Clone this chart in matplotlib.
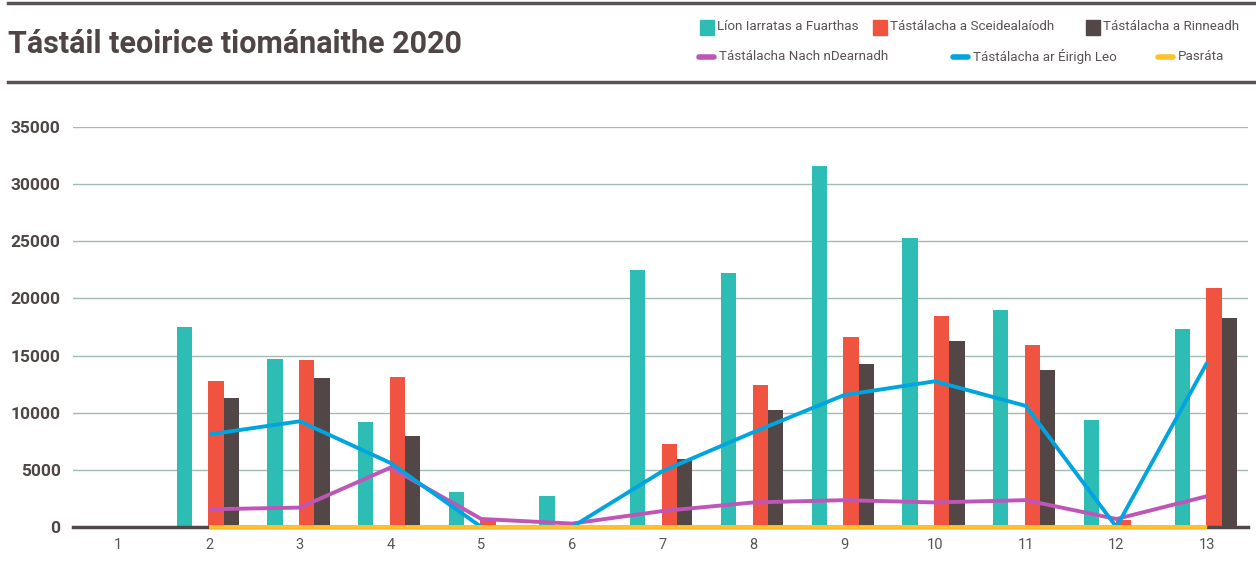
import numpy as np
import matplotlib
matplotlib.use("Agg")
import matplotlib.pyplot as plt
from matplotlib.patches import Rectangle
from matplotlib.lines import Line2D

plt.rcParams['font.family'] = ['Roboto', 'DejaVu Sans']

# ---- data ----
categories = ["1", "2", "3", "4", "5", "6", "7", "8", "9", "10", "11", "12", "13"]
lion_iarratas = [0, 17500, 14700, 9200, 3100, 2750, 22500, 22250, 31600, 25250, 18950, 9400, 17300]
sceidealaiodh = [0, 12800, 14600, 13150, 700, 0, 7300, 12400, 16650, 18450, 15950, 650, 20950]
rinneadh = [0, 11250, 13000, 7950, 0, 0, 5950, 10200, 14300, 16250, 13700, 0, 18250]
nach_ndearnadh = [np.nan, 1550, 1700, 5200, 700, 300, 1400, 2150, 2350, 2150, 2350, 700, 2700]
eirigh_leo = [np.nan, 8100, 9250, 5600, 0, 0, 4900, 8300, 11550, 12750, 10600, 0, 14400]
pasrata = [np.nan, 0.6, 0.6, 0.6, 0.5, 0.5, 0.6, 0.6, 0.6, 0.6, 0.6, 0.5, 0.6]

series_names = ["Líon Iarratas a Fuarthas", "Tástálacha a Sceidealaíodh", "Tástálacha a Rinneadh",
                "Tástálacha Nach nDearnadh", "Tástálacha ar Éirigh Leo", "Pasráta"]
title = "Tástáil teoirice tiománaithe 2020"

# ---- style ----
TEAL = "#2dbdb5"
RED = "#f05440"
DARK = "#524646"
PURPLE = "#c055b8"
BLUE = "#00a5e0"
YELLOW = "#fdc12a"
TEXT = "#4f4545"
GRID = "#a3bbb5"

W, H = 1256, 580
fig = plt.figure(figsize=(W / 100, H / 100), dpi=100)

ax = fig.add_axes([73 / W, 1 - 527 / H, (1248 - 73) / W, (527 - 127) / H])
x = np.arange(1, len(categories) + 1)
bw = 0.168
ax.bar(x - 0.275, lion_iarratas, bw, color=TEAL, zorder=2)
ax.bar(x + 0.075, sceidealaiodh, bw, color=RED, zorder=2)
ax.bar(x + 0.243, rinneadh, bw, color=DARK, zorder=2)
ax.axhline(0, color=DARK, lw=2.5, zorder=2.5, clip_on=False)
ax.plot(x, nach_ndearnadh, color=PURPLE, lw=2.8, zorder=3, solid_capstyle='butt', clip_on=False)
ax.plot(x, eirigh_leo, color=BLUE, lw=2.8, zorder=3, solid_capstyle='butt', clip_on=False)
ax.plot(x, pasrata, color=YELLOW, lw=2.8, zorder=3.1, solid_capstyle='butt', clip_on=False)

ax.set_xlim(0.5, 13.45)
ax.set_ylim(0, 35000)
ax.set_yticks(np.arange(0, 35001, 5000))
ax.set_xticks(x)
ax.set_xticklabels(categories)
ax.grid(axis='y', color=GRID, lw=1.0, zorder=0)
ax.set_axisbelow(True)
for s in ax.spines.values():
    s.set_visible(False)
ax.tick_params(axis='both', length=0)
ax.tick_params(axis='y', labelsize=12.5, labelcolor=TEXT, pad=9)
ax.tick_params(axis='x', labelsize=10.5, labelcolor="#5a5252", pad=8)
for lab in ax.get_yticklabels():
    lab.set_fontweight('bold')

# ---- header rules and title ----
fig.add_artist(Line2D([8 / W, 1.0], [1 - 3 / H] * 2, color="#5a5252", lw=2.5))
fig.add_artist(Line2D([8 / W, 1.0], [1 - 82 / H] * 2, color="#5a5252", lw=2.5))
fig.text(8 / W, 1 - 44 / H, title, fontsize=22, fontweight='bold', color=TEXT,
         va='center', ha='left')

# ---- legend (manual) ----
def sq(px, py, color):
    fig.add_artist(Rectangle((px / W, 1 - (py + 8) / H), 14 / W, 15 / H,
                             color=color, transform=fig.transFigure))

def ln(px, py, color):
    fig.add_artist(Line2D([px / W, (px + 15) / W], [1 - py / H] * 2, color=color,
                          lw=4, solid_capstyle='round'))

lg_fs = 9.6
lg_col = "#5a5252"
sq(700, 27, TEAL)
fig.text(717 / W, 1 - 27 / H, series_names[0], fontsize=lg_fs, color=lg_col, va='center')
sq(873, 27, RED)
fig.text(890 / W, 1 - 27 / H, series_names[1], fontsize=lg_fs, color=lg_col, va='center')
sq(1086, 27, DARK)
fig.text(1103 / W, 1 - 27 / H, series_names[2], fontsize=lg_fs, color=lg_col, va='center')
ln(699, 57, PURPLE)
fig.text(719 / W, 1 - 57 / H, series_names[3], fontsize=lg_fs, color=lg_col, va='center')
ln(953, 57, BLUE)
fig.text(973 / W, 1 - 57 / H, series_names[4], fontsize=lg_fs, color=lg_col, va='center')
ln(1158, 57, YELLOW)
fig.text(1178 / W, 1 - 57 / H, series_names[5], fontsize=lg_fs, color=lg_col, va='center')

fig.savefig("out.png", dpi=100)
